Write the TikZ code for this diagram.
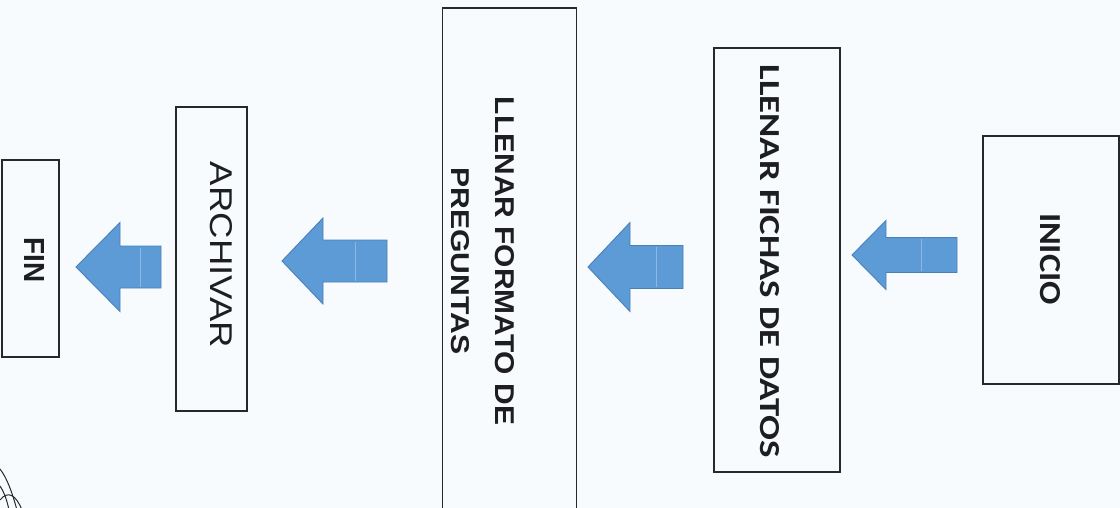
\documentclass[tikz,border=0pt]{standalone}
\usepackage{fontspec}
\setmainfont{Liberation Sans}
\newfontfamily\calib{Carlito}
\usepackage{graphicx}
\definecolor{bgc}{RGB}{247,251,253}
\definecolor{boxline}{RGB}{40,40,40}
\definecolor{txt}{RGB}{30,30,32}
\definecolor{arrowfill}{RGB}{93,155,215}
\definecolor{arrowline}{RGB}{74,128,185}
\definecolor{seam}{RGB}{140,185,228}
\newcommand\fitt[3]{\resizebox{#1pt}{#2pt}{#3}}
% name, tipx, tipy, head-base x, shaft-end x, shaft half width, head half width
\newcommand\blockarrow[7]{%
  \coordinate (#1) at (#2,#3);
  \draw[barrowstyle] (#1) -- (#4,{#3-#7}) -- (#4,{#3-#6}) -- (#5,{#3-#6}) -- (#5,{#3+#6}) -- (#4,{#3+#6}) -- (#4,{#3+#7}) -- cycle;
  \draw[seamline] ({(#4+#5)/2},{#3-#6+1.5}) -- ({(#4+#5)/2},{#3+#6-1.5});
}
\tikzset{
  box/.style={draw=boxline, line width=1.1pt, inner sep=0pt},
  lbl/.style={inner sep=0pt, rotate=-90, text=txt},
  barrowstyle/.style={fill=arrowfill, draw=arrowline, line width=0.9pt, line join=miter},
  seamline/.style={draw=seam, line width=0.8pt},
  scribble/.style={draw=boxline, line width=1pt}
}
\begin{document}
\begin{tikzpicture}[x=1pt, y=-1pt]
\useasboundingbox (0,0) rectangle (1120,508);
\fill[bgc] (0,0) rectangle (1120,508);
\clip (0,0) rectangle (1120,508);

% boxes
\node[box, minimum width=57pt, minimum height=197pt] (fin) at (30.5,258.5) {};
\node[box, minimum width=71pt, minimum height=304pt] (archivar) at (211.5,259) {};
\node[box, minimum width=134pt, minimum height=530pt] (formato) at (509.5,273) {};
\node[box, minimum width=126pt, minimum height=424pt] (fichas) at (777,260) {};
\node[box, minimum width=136pt, minimum height=248pt] (inicio) at (1051,260) {};

% texts
\node[lbl] (tfin) at (35,260) {\fitt{45}{20}{\bfseries FIN}};
\node[lbl] (tarch) at (221,255) {\fitt{186}{22}{ARCHIVAR}};
\node[lbl] (tform1) at (505,261) {\fitt{328}{19}{\bfseries LLENAR FORMATO DE}};
\node[lbl] (tform2) at (460.5,261) {\fitt{187}{18}{\bfseries PREGUNTAS}};
\node[lbl] (tfich) at (770,261) {\fitt{393}{19}{\calib\bfseries LLENAR FICHAS DE DATOS}};
\node[lbl] (tini) at (1050,259) {\fitt{92}{20}{\calib\bfseries INICIO}};

% block arrows
\blockarrow{a1}{76}{267}{120}{161}{21}{44.5}
\blockarrow{a2}{282}{261}{323}{387}{21}{43}
\blockarrow{a3}{588}{267}{630}{683}{21.5}{44.5}
\blockarrow{a4}{852}{255}{886}{957}{17.5}{34.5}

% scribble at the lower left corner
\draw[scribble] (0,469) .. controls (7,478) and (12,492) .. (17,510);
\draw[scribble] (0,500) .. controls (8,490) and (16,495) .. (22,510);
\draw[scribble] (0,486) .. controls (4,492) and (7,500) .. (9,510);
\end{tikzpicture}
\end{document}
